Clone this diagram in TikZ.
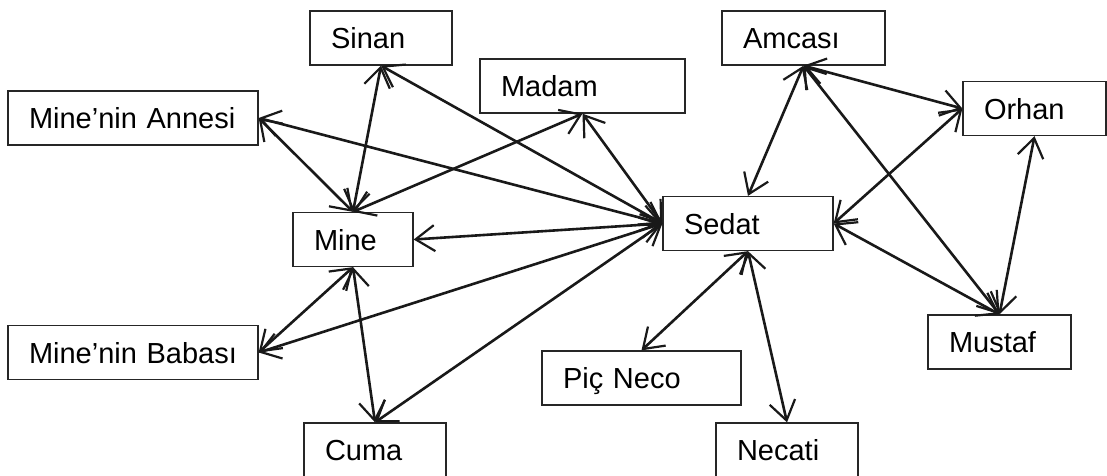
\documentclass[tikz,border=0pt]{standalone}
\usepackage{fontspec}
\setmainfont{Liberation Sans}
\usetikzlibrary{arrows.meta}

\tikzset{
  person/.style={draw=black!85, line width=1.3pt, minimum height=54pt,
    inner xsep=21pt, align=left, text height=21pt, text depth=0pt,
    font=\fontsize{29}{34}\selectfont},
  link/.style={line width=2.6pt, black!90,
    {Straight Barb[length=19pt,width=26pt,line width=2.2pt]}-{Straight Barb[length=19pt,width=26pt,line width=2.2pt]}}
}

\begin{document}
\begin{tikzpicture}[x=1pt, y=-1pt]
    \useasboundingbox (0,0) rectangle (1107,475);

    % Left group
    \node[person, text width=100pt] (sinan)  at (381,38)    {Sinan};
    \node[person, text width=208pt] (annesi) at (133,118)   {Mine’nin Annesi};
    \node[person, text width=163pt] (madam)  at (582.5,86)  {Madam};
    \node[person, text width=78pt]  (mine)   at (353,239.5) {Mine};
    \node[person, text width=208pt] (babasi) at (133,352.5) {Mine’nin Babası};
    \node[person, text width=100pt] (cuma)   at (375,450)   {Cuma};

    % Middle and right group
    \node[person, text width=128pt] (sedat)  at (748,223.5)  {Sedat};
    \node[person, text width=157pt] (neco)   at (641.5,378)  {Piç Neco};
    \node[person, text width=100pt] (necati) at (787,450)    {Necati};
    \node[person, text width=121pt] (amcasi) at (803.5,38)   {Amcası};
    \node[person, text width=101pt] (orhan)  at (1034.5,108.5) {Orhan};
    \node[person, text width=101pt] (mustaf) at (999.5,342)  {Mustaf};

    % Links around Mine
    \draw[link] (sinan.south) -- (mine.north);
    \draw[link] (annesi.east) -- (mine.north);
    \draw[link] (madam.south) -- (mine.north);
    \draw[link] (babasi.east) -- (mine.south);
    \draw[link] (mine.south) -- (cuma.north);

    % Links into Sedat
    \draw[link] (sinan.south) -- (sedat.west);
    \draw[link] (annesi.east) -- (sedat.west);
    \draw[link] (madam.south) -- (sedat.west);
    \draw[link] (mine.east) -- (sedat.west);
    \draw[link] (babasi.east) -- (sedat.west);
    \draw[link] (cuma.north) -- (sedat.west);
    \draw[link] (amcasi.south) -- (sedat.north);
    \draw[link] (orhan.west) -- (sedat.east);
    \draw[link] (sedat.east) -- (mustaf.north);
    \draw[link] (sedat.south) -- (neco.north);
    \draw[link] (sedat.south) -- (necati.north);

    % Right triangle
    \draw[link] (amcasi.south) -- (orhan.west);
    \draw[link] (amcasi.south) -- (mustaf.north);
    \draw[link] (orhan.south) -- (mustaf.north);
\end{tikzpicture}
\end{document}
